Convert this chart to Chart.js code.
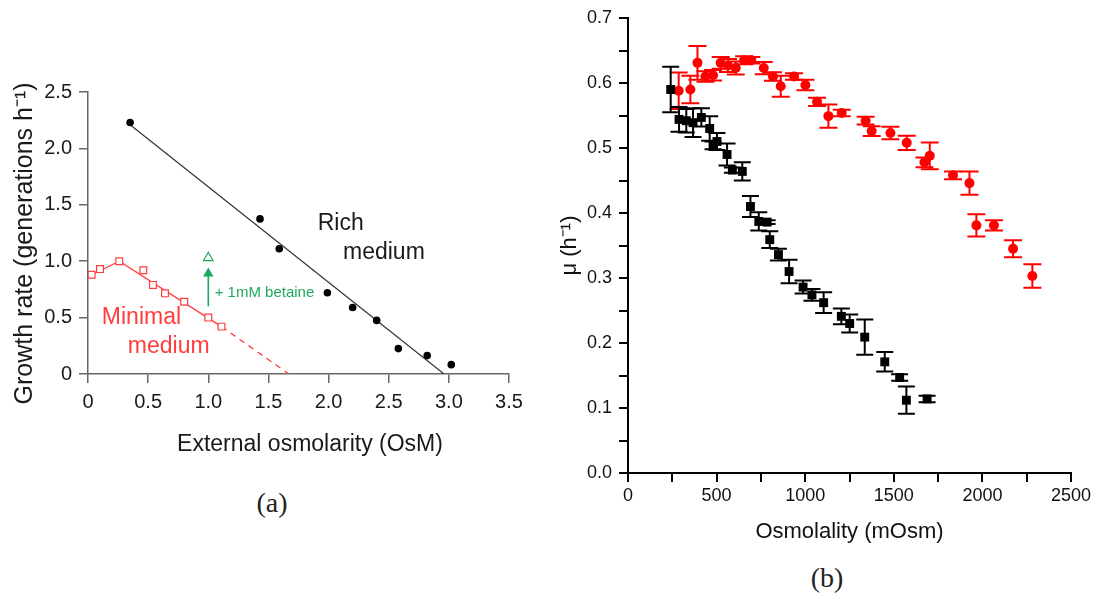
<!DOCTYPE html>
<html>
<head>
<meta charset="utf-8">
<script src="https://cdn.jsdelivr.net/npm/chart.js@4.4.0/dist/chart.umd.min.js"></script>
<style>
  html, body { margin: 0; padding: 0; background: #fff; width: 1098px; height: 594px; overflow: hidden; }
  body { font-family: "Liberation Sans", Arial, sans-serif; }
  .box { position: absolute; }
  .lbl { position: absolute; white-space: nowrap; transform: translate(-50%, -50%); color: #1a1a1a; }
  .serif { font-family: "Liberation Serif", "DejaVu Serif", serif; font-size: 28px; color: #222; }
</style>
</head>
<body>
<div class="box" style="left:0;top:0;width:540px;height:470px"><canvas id="chartA"></canvas></div>
<div class="box" style="left:540px;top:0;width:558px;height:560px"><canvas id="chartB"></canvas></div>
<div class="lbl" style="left:310px;top:443px;font-size:23px">External osmolarity (OsM)</div>
<div class="lbl serif" style="left:272px;top:503px">(a)</div>
<div class="lbl serif" style="left:827px;top:578px">(b)</div>

<script>
// ---- panel (a): growth rate vs external osmolarity ----
const richX = [0.35, 1.43, 1.59, 1.99, 2.20, 2.40, 2.58, 2.82, 3.02]
const richY = [2.23, 1.375, 1.11, 0.72, 0.59, 0.475, 0.225, 0.163, 0.083]
const richFitX = [0.35, 2.96]
const richFitY = [2.21, 0]

const minimalX = [0.03, 0.10, 0.26, 0.46, 0.54, 0.64, 0.80, 1.00, 1.11]
const minimalY = [0.88, 0.93, 1.00, 0.92, 0.79, 0.715, 0.64, 0.50, 0.42]
const minimalFitX = [0.03, 0.26, 1.11]
const minimalFitY = [0.88, 1.00, 0.42]
const minimalExtX = [1.11, 1.67]
const minimalExtY = [0.42, 0]

const betaineX = [1.0]
const betaineY = [1.03]
const arrowX = [1.0, 1.0]
const arrowY = [0.60, 0.89]

const ticksA_x = [0, 0.5, 1.0, 1.5, 2.0, 2.5, 3.0, 3.5]
const ticksA_y = [0, 0.5, 1.0, 1.5, 2.0, 2.5]

// ---- panel (b): mu vs osmolality, with error bars ----
const redX = [286, 352, 392, 437, 480, 523, 564, 608, 655, 696, 766, 818, 862, 937, 1001, 1067, 1131, 1206, 1341, 1375, 1481, 1573, 1673, 1703, 1834, 1927, 1966, 2065, 2173, 2282]
const redY = [0.588, 0.590, 0.631, 0.610, 0.612, 0.631, 0.627, 0.623, 0.635, 0.635, 0.623, 0.610, 0.595, 0.610, 0.597, 0.571, 0.549, 0.554, 0.542, 0.526, 0.523, 0.508, 0.478, 0.488, 0.458, 0.446, 0.381, 0.381, 0.345, 0.303]
const redErr = [0.028, 0.021, 0.026, 0.008, 0.008, 0.009, 0.01, 0.01, 0.006, 0.005, 0.0095, 0.0065, 0.016, 0.005, 0.008, 0.0065, 0.018, 0.005, 0.006, 0.0075, 0.0097, 0.011, 0.0075, 0.0205, 0.006, 0.018, 0.017, 0.008, 0.013, 0.018]

const blackX = [241, 288, 329, 367, 414, 461, 480, 502, 559, 589, 645, 691, 738, 785, 800, 849, 909, 988, 1038, 1104, 1204, 1251, 1336, 1449, 1533, 1571, 1688]
const blackY = [0.590, 0.544, 0.542, 0.539, 0.547, 0.530, 0.504, 0.510, 0.490, 0.466, 0.464, 0.410, 0.387, 0.386, 0.359, 0.336, 0.310, 0.286, 0.274, 0.262, 0.241, 0.230, 0.209, 0.171, 0.147, 0.112, 0.114]
const blackErr = [0.035, 0.019, 0.018, 0.022, 0.014, 0.019, 0.006, 0.013, 0.017, 0.004, 0.014, 0.016, 0.014, 0.003, 0.013, 0.009, 0.018, 0.01, 0.009, 0.016, 0.012, 0.014, 0.027, 0.015, 0.005, 0.021, 0.005]

const pts = (xs, ys) => xs.map((x, i) => ({ x, y: ys[i] }))

Chart.defaults.font.family = '"Liberation Sans", Arial, sans-serif'
Chart.defaults.animation = false

const RED_A = '#ff3d3d'
const GREEN = '#1fa95a'

// free text inside panel (a), anchored in data units
const notesA = [
  { text: 'Rich', x: 1.91, y: 1.33, color: '#1a1a1a', size: 23 },
  { text: 'medium', x: 2.12, y: 1.076, color: '#1a1a1a', size: 23 },
  { text: 'Minimal', x: 0.115, y: 0.497, color: RED_A, size: 23 },
  { text: 'medium', x: 0.331, y: 0.242, color: RED_A, size: 23 },
  { text: '+ 1mM betaine', x: 1.053, y: 0.721, color: GREEN, size: 15 }
]

const notesPlugin = {
  id: 'notes',
  afterDatasetsDraw (chart, args, opts) {
    const { ctx, scales: { x, y } } = chart
    ;(opts.items || []).forEach(n => {
      ctx.save()
      ctx.fillStyle = n.color
      ctx.font = n.size + 'px "Liberation Sans", Arial, sans-serif'
      ctx.textAlign = 'left'
      ctx.textBaseline = 'middle'
      ctx.fillText(n.text, x.getPixelForValue(n.x), y.getPixelForValue(n.y))
      ctx.restore()
    })
  }
}

const errorBars = {
  id: 'errorBars',
  afterDatasetDraw (chart, args) {
    const ds = chart.data.datasets[args.index]
    if (!ds.errors) return
    const { ctx, scales: { x, y } } = chart
    const cap = ds.capHalf || 8
    ctx.save()
    ctx.strokeStyle = ds.borderColor
    ctx.lineWidth = 2
    ds.data.forEach((p, i) => {
      const px = x.getPixelForValue(p.x)
      const top = y.getPixelForValue(p.y + ds.errors[i])
      const bot = y.getPixelForValue(p.y - ds.errors[i])
      ctx.beginPath()
      ctx.moveTo(px, top); ctx.lineTo(px, bot)
      ctx.moveTo(px - cap, top); ctx.lineTo(px + cap, top)
      ctx.moveTo(px - cap, bot); ctx.lineTo(px + cap, bot)
      ctx.stroke()
    })
    ctx.restore()
  }
}

const labelA = v => (v === 0 ? '0' : v.toFixed(1))

new Chart(document.getElementById('chartA'), {
  type: 'scatter',
  data: {
    datasets: [
      { data: pts(richX, richY), pointStyle: 'circle', pointRadius: 3.8, backgroundColor: '#000', borderWidth: 0 },
      { data: pts(minimalX, minimalY), pointStyle: 'rect', pointRadius: 4.8, backgroundColor: '#fff', borderColor: RED_A, borderWidth: 1.2 },
      { data: pts(betaineX, betaineY), pointStyle: 'triangle', pointRadius: 5.5, backgroundColor: '#fff', borderColor: GREEN, borderWidth: 1.2 },
      { data: pts([arrowX[1]], [arrowY[1]]), pointStyle: 'triangle', pointRadius: 6, backgroundColor: GREEN, borderWidth: 0 },
      { data: pts(arrowX, arrowY), showLine: true, pointRadius: 0, borderColor: GREEN, borderWidth: 1.6 },
      { data: pts(richFitX, richFitY), showLine: true, pointRadius: 0, borderColor: '#333', borderWidth: 1.2 },
      { data: pts(minimalFitX, minimalFitY), showLine: true, pointRadius: 0, borderColor: RED_A, borderWidth: 1.3 },
      { data: pts(minimalExtX, minimalExtY), showLine: true, pointRadius: 0, borderColor: RED_A, borderWidth: 1.3, borderDash: [6, 5] }
    ]
  },
  options: {
    responsive: true,
    maintainAspectRatio: false,
    layout: { padding: { top: 92, right: 31, left: 0, bottom: 0 } },
    plugins: { legend: { display: false }, tooltip: { enabled: false }, notes: { items: notesA } },
    scales: {
      x: {
        type: 'linear', min: 0, max: 3.5,
        afterBuildTicks: s => { s.ticks = ticksA_x.map(v => ({ value: v })) },
        border: { color: '#666', width: 1.5 },
        grid: { drawOnChartArea: false, color: '#666', lineWidth: 1.5, tickLength: 9 },
        ticks: { padding: 7, color: '#1a1a1a', font: { size: 20 }, maxRotation: 0, autoSkip: false, callback: labelA },
        afterFit: s => { s.height = 96 }
      },
      y: {
        type: 'linear', min: 0, max: 2.5,
        afterBuildTicks: s => { s.ticks = ticksA_y.map(v => ({ value: v })) },
        border: { color: '#666', width: 1.5 },
        grid: { drawOnChartArea: false, color: '#666', lineWidth: 1.5, tickLength: 9 },
        ticks: { padding: 7, color: '#1a1a1a', font: { size: 20 }, autoSkip: false, callback: labelA },
        // trailing no-break spaces nudge the rotated title down to where the original sits
        title: { display: true, text: 'Growth rate (generations h⁻¹)\u00a0\u00a0\u00a0', color: '#1a1a1a', font: { size: 25 }, padding: { top: 10, bottom: 0 } },
        afterFit: s => { s.width = 88 }
      }
    }
  },
  plugins: [notesPlugin]
})

new Chart(document.getElementById('chartB'), {
  type: 'scatter',
  data: {
    datasets: [
      { data: pts(blackX, blackY), errors: blackErr, capHalf: 8.5, pointStyle: 'rect', pointRadius: 6.3, backgroundColor: '#000', borderColor: '#000', borderWidth: 0 },
      { data: pts(redX, redY), errors: redErr, capHalf: 9, pointStyle: 'circle', pointRadius: 5, backgroundColor: '#ff0000', borderColor: '#ff0000', borderWidth: 0 }
    ]
  },
  options: {
    responsive: true,
    maintainAspectRatio: false,
    layout: { padding: { top: 18, right: 27, left: 0, bottom: 0 } },
    plugins: { legend: { display: false }, tooltip: { enabled: false } },
    scales: {
      x: {
        type: 'linear', min: 0, max: 2500,
        border: { color: '#000', width: 2 },
        grid: { drawOnChartArea: false, color: '#000', lineWidth: 2, tickLength: 9 },
        ticks: { stepSize: 250, padding: 3, color: '#111', font: { size: 18 }, maxRotation: 0, autoSkip: false,
          callback: v => (v % 500 === 0 ? String(v) : '') },
        title: { display: true, text: 'Osmolality (mOsm)', color: '#111', font: { size: 22 }, padding: { top: 0, bottom: 15 } },
        afterFit: s => { s.height = 87 }
      },
      y: {
        type: 'linear', min: 0, max: 0.7,
        border: { color: '#000', width: 2 },
        grid: { drawOnChartArea: false, color: '#000', lineWidth: 2, tickLength: 9 },
        ticks: { stepSize: 0.05, padding: 7, color: '#111', font: { size: 18 }, autoSkip: false,
          callback: v => (Math.round(v * 100) % 10 === 0 ? v.toFixed(1) : '') },
        title: { display: true, text: 'μ (h⁻¹)', color: '#111', font: { size: 22 }, padding: { top: 17, bottom: 0 } },
        afterFit: s => { s.width = 88 }
      }
    }
  },
  plugins: [errorBars]
})
</script>
</body>
</html>
